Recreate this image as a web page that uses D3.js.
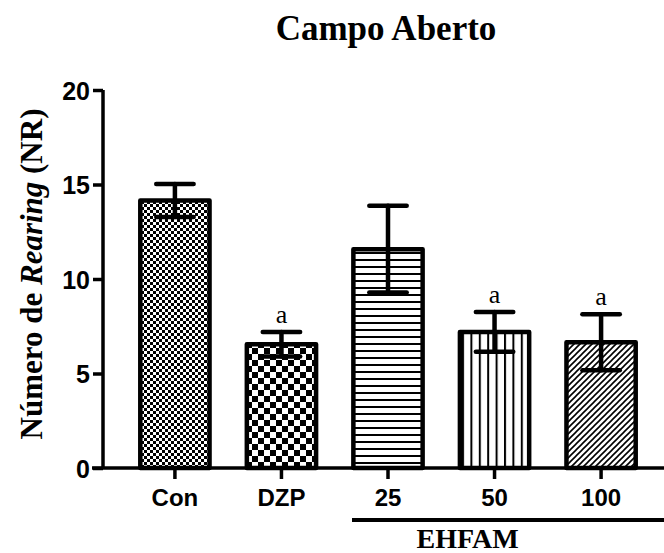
<!DOCTYPE html>
<html>
<head>
<meta charset="utf-8">
<script src="https://cdn.jsdelivr.net/npm/d3@7"></script>
<style>
  body { margin: 0; background: #fff; }
</style>
</head>
<body>
<div class="chart"></div>
<script>
const categories = ["Con", "DZP", "25", "50", "100"];
const means = [14.15, 6.55, 11.58, 7.2, 6.65];
const sems = [0.87, 0.65, 2.3, 1.05, 1.48];
const marks = ["", "a", "", "a", "a"];
const yTicks = [0, 5, 10, 15, 20];
const groupLabel = "EHFAM";
const groupCats = ["25", "50", "100"];

const width = 664;
const height = 553;
const sans = "'Liberation Sans', Arial, sans-serif";
const serif = "'Liberation Serif', 'Times New Roman', serif";

const svg = d3.select("div.chart").append("svg")
  .attr("width", width)
  .attr("height", height);

// fill patterns, one per bar
const defs = svg.append("defs");

const fine = defs.append("pattern").attr("id", "p0")
  .attr("patternUnits", "userSpaceOnUse").attr("width", 6).attr("height", 6);
fine.append("rect").attr("width", 6).attr("height", 6).attr("fill", "#fff");
fine.append("rect").attr("width", 3).attr("height", 3).attr("fill", "#000");
fine.append("rect").attr("x", 3).attr("y", 3).attr("width", 3).attr("height", 3).attr("fill", "#000");

const coarse = defs.append("pattern").attr("id", "p1")
  .attr("patternUnits", "userSpaceOnUse").attr("width", 12).attr("height", 12);
coarse.append("rect").attr("width", 12).attr("height", 12).attr("fill", "#fff");
coarse.append("rect").attr("width", 6).attr("height", 6).attr("fill", "#000");
coarse.append("rect").attr("x", 6).attr("y", 6).attr("width", 6).attr("height", 6).attr("fill", "#000");

const horiz = defs.append("pattern").attr("id", "p2")
  .attr("patternUnits", "userSpaceOnUse").attr("width", 8).attr("height", 7);
horiz.append("rect").attr("width", 8).attr("height", 7).attr("fill", "#fff");
horiz.append("rect").attr("y", 0).attr("width", 8).attr("height", 2).attr("fill", "#000");

const vert = defs.append("pattern").attr("id", "p3")
  .attr("patternUnits", "userSpaceOnUse").attr("width", 8.4).attr("height", 8);
vert.append("rect").attr("width", 8.4).attr("height", 8).attr("fill", "#fff");
vert.append("rect").attr("x", 0).attr("width", 2).attr("height", 8).attr("fill", "#000");

const diag = defs.append("pattern").attr("id", "p4")
  .attr("patternUnits", "userSpaceOnUse").attr("width", 6).attr("height", 6);
diag.append("rect").attr("width", 6).attr("height", 6).attr("fill", "#fff");
diag.append("path").attr("d", "M-1,1 L1,-1 M0,6 L6,0 M5,7 L7,5")
  .attr("stroke", "#000").attr("stroke-width", 1.6);

const x = d3.scaleBand().domain(categories).range([103, 673]).padding(0.35);
const y = d3.scaleLinear().domain([0, 20]).range([468, 90]);

// bars
svg.selectAll("rect.bar")
  .data(categories)
  .enter()
  .append("rect")
  .attr("class", "bar")
  .attr("x", d => x(d))
  .attr("y", (d, i) => y(means[i]))
  .attr("width", x.bandwidth())
  .attr("height", (d, i) => y(0) - y(means[i]))
  .attr("fill", (d, i) => "url(#p" + i + ")")
  .attr("stroke", "#000")
  .attr("stroke-width", 4.5)
  .attr("stroke-linejoin", "round");

// error bars
const cap = x.bandwidth() * 0.27;
const err = svg.append("g")
  .attr("stroke", "#000")
  .attr("stroke-width", 4.5)
  .attr("stroke-linecap", "round");
categories.forEach((c, i) => {
  const cx = x(c) + x.bandwidth() / 2;
  const top = y(means[i] + sems[i]);
  const bot = y(means[i] - sems[i]);
  err.append("line").attr("x1", cx).attr("x2", cx).attr("y1", top).attr("y2", bot);
  err.append("line").attr("x1", cx - cap).attr("x2", cx + cap).attr("y1", top).attr("y2", top);
  err.append("line").attr("x1", cx - cap).attr("x2", cx + cap).attr("y1", bot).attr("y2", bot);
  if (marks[i]) {
    svg.append("text")
      .attr("x", cx).attr("y", top - 9)
      .attr("text-anchor", "middle")
      .style("font-family", serif)
      .style("font-size", "26px")
      .text(marks[i]);
  }
});

// y axis
const yAxis = svg.append("g")
  .attr("transform", "translate(103,0)")
  .call(d3.axisLeft(y).tickValues(yTicks).tickSize(10).tickPadding(3).tickFormat(d3.format("d")));
yAxis.select(".domain").attr("stroke-width", 3.5).attr("d", "M0," + y(20) + "V" + y(0));
yAxis.selectAll(".tick line").attr("stroke-width", 3.5);
yAxis.selectAll(".tick text")
  .attr("dy", "0.36em")
  .style("font-family", sans)
  .style("font-weight", "bold")
  .style("font-size", "25px");

// x axis
const xAxis = svg.append("g")
  .attr("transform", "translate(0," + y(0) + ")")
  .call(d3.axisBottom(x).tickSize(11).tickPadding(10));
xAxis.select(".domain").attr("stroke-width", 3.5).attr("d", "M92,0H664");
xAxis.selectAll(".tick line").attr("stroke-width", 3.5);
xAxis.selectAll(".tick text")
  .attr("dy", "0.72em")
  .style("font-family", sans)
  .style("font-weight", "bold")
  .style("font-size", "24px");

// group bracket
svg.append("line")
  .attr("x1", 352).attr("x2", 664)
  .attr("y1", 520).attr("y2", 520)
  .attr("stroke", "#000").attr("stroke-width", 4);
svg.append("text")
  .attr("x", x(groupCats[1]) + x.bandwidth() / 2 - 27)
  .attr("y", 548)
  .attr("text-anchor", "middle")
  .style("font-family", serif)
  .style("font-size", "28px")
  .style("font-weight", "bold")
  .text(groupLabel);

// title
svg.append("text")
  .attr("x", 386).attr("y", 40)
  .attr("text-anchor", "middle")
  .style("font-family", serif)
  .style("font-size", "35px")
  .style("font-weight", "bold")
  .text("Campo Aberto");

// y label
const yl = svg.append("text")
  .attr("transform", "translate(42,274) rotate(-90)")
  .attr("text-anchor", "middle")
  .style("font-family", serif)
  .style("font-size", "31px")
  .style("font-weight", "bold");
yl.append("tspan").text("Número de ");
yl.append("tspan").style("font-style", "italic").text("Rearing");
yl.append("tspan").text(" (NR)");
</script>
</body>
</html>
